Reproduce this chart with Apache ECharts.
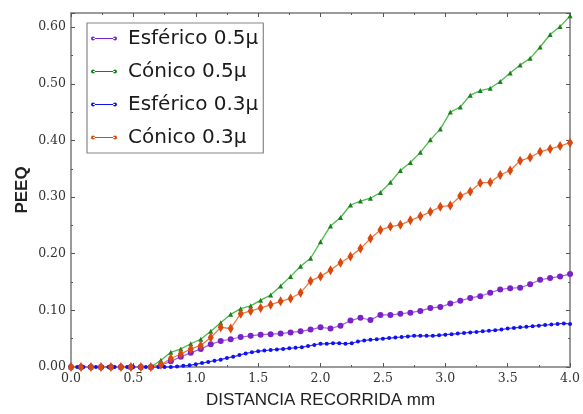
<!DOCTYPE html>
<html>
<head>
<meta charset="utf-8">
<script src="https://cdn.jsdelivr.net/npm/echarts@6/dist/echarts.min.js"></script>
<style>html,body{margin:0;padding:0;background:#fff}#c{width:583px;height:414px}</style>
</head>
<body>
<div id="c"></div>
<script>
// distances (mm) for the 0.08-step series
var dist8 = [0,0.08,0.16,0.24,0.32,0.40,0.48,0.56,0.64,0.72,0.80,0.88,0.96,1.04,1.12,1.20,1.28,1.36,1.44,1.52,1.60,1.68,1.76,1.84,1.92,2.00,2.08,2.16,2.24,2.32,2.40,2.48,2.56,2.64,2.72,2.80,2.88,2.96,3.04,3.12,3.20,3.28,3.36,3.44,3.52,3.60,3.68,3.76,3.84,3.92,4.00];
// distances (mm) for the 0.05-step series
var dist5 = [0,0.05,0.10,0.15,0.20,0.25,0.30,0.35,0.40,0.45,0.50,0.55,0.60,0.65,0.70,0.75,0.80,0.85,0.90,0.95,1.00,1.05,1.10,1.15,1.20,1.25,1.30,1.35,1.40,1.45,1.50,1.55,1.60,1.65,1.70,1.75,1.80,1.85,1.90,1.95,2.00,2.05,2.10,2.15,2.20,2.25,2.30,2.35,2.40,2.45,2.50,2.55,2.60,2.65,2.70,2.75,2.80,2.85,2.90,2.95,3.00,3.05,3.10,3.15,3.20,3.25,3.30,3.35,3.40,3.45,3.50,3.55,3.60,3.65,3.70,3.75,3.80,3.85,3.90,3.95,4.00];

var esferico05 = [0,0,0,0,0,0,0,0,0,0.003,0.010,0.018,0.025,0.032,0.040,0.046,0.049,0.053,0.055,0.057,0.058,0.059,0.061,0.063,0.066,0.070,0.068,0.073,0.082,0.087,0.083,0.092,0.092,0.094,0.096,0.099,0.104,0.106,0.112,0.117,0.122,0.125,0.131,0.137,0.139,0.140,0.146,0.154,0.157,0.160,0.164];
var conico05 = [0,0,0,0,0,0,0,0,0,0.012,0.026,0.032,0.041,0.049,0.063,0.078,0.093,0.103,0.108,0.118,0.127,0.143,0.160,0.178,0.192,0.221,0.249,0.264,0.286,0.293,0.298,0.308,0.326,0.347,0.361,0.379,0.401,0.420,0.450,0.459,0.480,0.488,0.492,0.504,0.519,0.533,0.545,0.565,0.587,0.601,0.620];
var esferico03 = [0,0,0,0,0,0,0,0,0,0,0,0,0,0,0,0,0,0.001,0.002,0.003,0.005,0.007,0.009,0.011,0.013,0.016,0.018,0.021,0.024,0.026,0.028,0.029,0.030,0.031,0.032,0.033,0.034,0.035,0.037,0.039,0.041,0.041,0.042,0.042,0.041,0.042,0.045,0.047,0.048,0.049,0.050,0.051,0.052,0.053,0.054,0.055,0.055,0.055,0.055,0.056,0.057,0.058,0.059,0.060,0.061,0.062,0.063,0.064,0.065,0.066,0.068,0.069,0.070,0.071,0.072,0.073,0.074,0.075,0.076,0.077,0.076];
var conico03 = [0,0,0,0,0,0,0,0,0,0.004,0.015,0.023,0.032,0.038,0.052,0.070,0.068,0.094,0.099,0.104,0.110,0.116,0.121,0.131,0.152,0.160,0.171,0.184,0.195,0.209,0.227,0.242,0.248,0.251,0.259,0.266,0.274,0.283,0.285,0.302,0.310,0.325,0.326,0.339,0.347,0.364,0.370,0.380,0.385,0.390,0.396];

var seriesNames = ['Esférico 0.5μ','Cónico 0.5μ','Esférico 0.3μ','Cónico 0.3μ'];
var xTicks = ['0.0','0.5','1.0','1.5','2.0','2.5','3.0','3.5','4.0'];
var yTicks = ['0.00','0.10','0.20','0.30','0.40','0.50','0.60'];

function pairs(xs, ys){ return xs.map(function(x,i){ return [x, ys[i]]; }); }

var axisCol = '#9a9a9a';
var labelFont = {fontFamily:'DejaVu Serif', fontSize:12.5, color:'#333'};
var legendIcon = 'path://M2,3.5L24,3.5L24,4.5L2,4.5Z M0,4a2,2 0 1,0 4,0a2,2 0 1,0 -4,0Z M22,4a2,2 0 1,0 4,0a2,2 0 1,0 -4,0Z';

var chart = echarts.init(document.getElementById('c'), null, {renderer:'canvas'});
chart.setOption({
  animation:false,
  backgroundColor:'#fff',
  grid:{left:71, right:11, top:13, bottom:44, containLabel:false},
  legend:{
    left:87, top:23, orient:'vertical',
    data:seriesNames, icon:legendIcon,
    backgroundColor:'#fff', borderColor:'#888', borderWidth:1.2,
    padding:[5,5,5,4], itemGap:12, itemWidth:26, itemHeight:6,
    textStyle:{fontFamily:'DejaVu Sans', fontSize:20, color:'#1a1a1a', lineHeight:21, padding:[0,0,0,6]}
  },
  xAxis:[{
    type:'value', min:0, max:4, interval:0.5,
    name:'DISTANCIA RECORRIDA mm', nameLocation:'middle', nameGap:25, nameMoveOverlap:false,
    nameTextStyle:{fontFamily:'Liberation Sans', fontSize:17, color:'#222'},
    axisLine:{show:true, onZero:false, lineStyle:{color:axisCol, width:2}},
    axisTick:{show:true, inside:true, length:4, lineStyle:{color:'#555'}},
    minorTick:{show:true, splitNumber:2, length:2, lineStyle:{color:'#555'}},
    splitLine:{show:false},
    axisLabel:Object.assign({margin:5, formatter:function(v){ return xTicks[Math.round(v/0.5)]; }}, labelFont)
  },{
    type:'value', min:0, max:4, interval:0.5, position:'top',
    axisLine:{show:true, onZero:false, lineStyle:{color:axisCol, width:2}},
    axisTick:{show:true, inside:true, length:4, lineStyle:{color:'#555'}},
    minorTick:{show:true, splitNumber:2, length:2, lineStyle:{color:'#555'}},
    splitLine:{show:false}, axisLabel:{show:false}
  }],
  yAxis:[{
    type:'value', min:0, max:0.625, interval:0.1,
    name:'PEEQ', nameLocation:'middle', nameGap:40, nameRotate:90, nameMoveOverlap:false,
    nameTextStyle:{fontFamily:'Liberation Sans', fontSize:17, color:'#222', fontWeight:'bold'},
    axisLine:{show:true, onZero:false, lineStyle:{color:axisCol, width:2}},
    axisTick:{show:true, inside:true, length:4, lineStyle:{color:'#555'}},
    minorTick:{show:true, splitNumber:2, length:2, lineStyle:{color:'#555'}},
    splitLine:{show:false},
    axisLabel:Object.assign({margin:5, showMaxLabel:false, formatter:function(v){ var i=Math.round(v/0.1); return yTicks[i]||''; }}, labelFont)
  },{
    type:'value', min:0, max:0.625, interval:0.1, position:'right',
    axisLine:{show:true, onZero:false, lineStyle:{color:axisCol, width:2}},
    axisTick:{show:true, inside:true, length:4, lineStyle:{color:'#555'}},
    minorTick:{show:true, splitNumber:2, length:2, lineStyle:{color:'#555'}},
    splitLine:{show:false}, axisLabel:{show:false}
  }],
  series:[
    {name:seriesNames[0], type:'line', clip:false, data:pairs(dist8, esferico05),
     symbol:'circle', symbolSize:6, showAllSymbol:true,
     lineStyle:{color:'#a060e8', width:1.2}, itemStyle:{color:'#7a22c8'}},
    {name:seriesNames[1], type:'line', clip:false, data:pairs(dist8, conico05),
     symbol:'triangle', symbolSize:5, showAllSymbol:true,
     lineStyle:{color:'#4cbb4c', width:1.3}, itemStyle:{color:'#1b7f1b'}},
    {name:seriesNames[2], type:'line', clip:false, data:pairs(dist5, esferico03),
     symbol:'circle', symbolSize:4, showAllSymbol:true,
     lineStyle:{color:'#3030ff', width:1.2}, itemStyle:{color:'#1010f0'}},
    {name:seriesNames[3], type:'line', clip:false, data:pairs(dist8, conico03),
     symbol:'diamond', symbolSize:[6,10], showAllSymbol:true,
     lineStyle:{color:'#f07a40', width:1.3}, itemStyle:{color:'#d9480f'}}
  ]
});
</script>
</body>
</html>
